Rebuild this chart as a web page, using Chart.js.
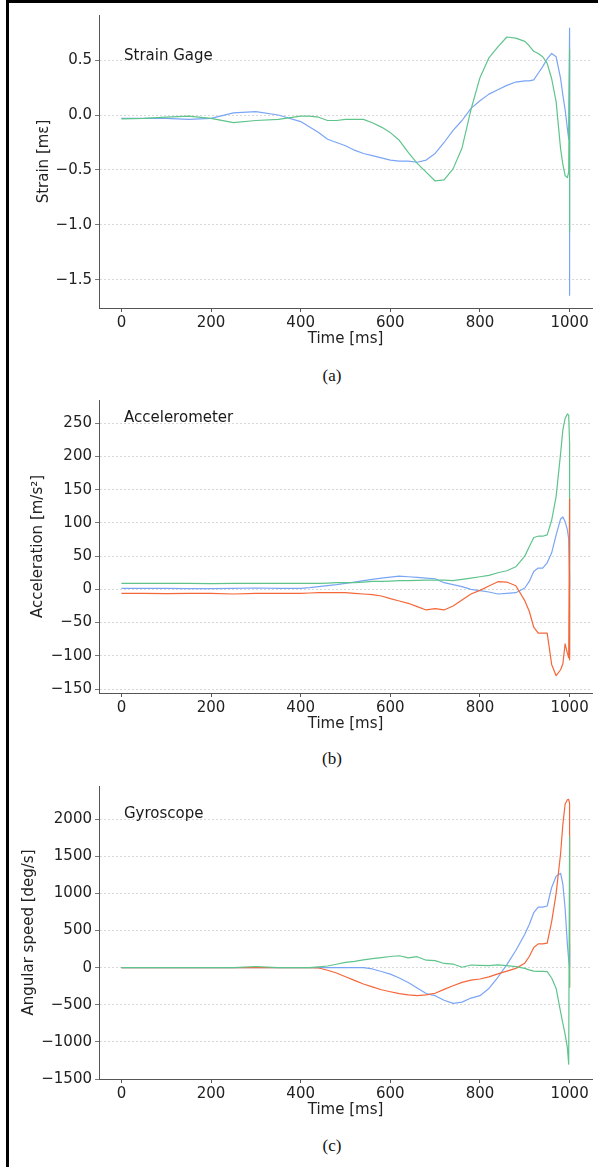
<!DOCTYPE html>
<html lang="en">
<head>
<meta charset="UTF-8">
<title>Strain gage, accelerometer and gyroscope signals</title>
<script src="https://cdn.jsdelivr.net/npm/chart.js"></script>
<style>
  body { margin: 0; background: #fff; }
  #page { position: relative; width: 598px; height: 1167px; overflow: hidden; }
  #frame { position: absolute; left: 6px; top: 0; width: 620px; height: 1200px;
           border-left: 3px solid #000; border-top: 3px solid #000; }
  .panel { position: absolute; left: 0; }
  .cap { position: absolute; left: 302px; width: 60px; text-align: center;
         font-family: "Liberation Serif", "Times New Roman", serif; font-size: 17px; line-height: 20px; color: #111; }
</style>
</head>
<body>
<div id="page">
  <div id="frame"></div>
  <canvas id="c1" class="panel" width="598" height="348" style="top:0"></canvas>
  <div class="cap" style="top:366px">(a)</div>
  <canvas id="c2" class="panel" width="598" height="348" style="top:385px"></canvas>
  <div class="cap" style="top:749px">(b)</div>
  <canvas id="c3" class="panel" width="598" height="348" style="top:771px"></canvas>
  <div class="cap" style="top:1136px">(c)</div>
</div>

<script>
// time axis shared by every series [ms]
const time = [0, 50, 100, 150, 200, 250, 300, 350, 400,
  420, 440, 460, 480, 500, 520, 540, 560, 580, 600, 620, 640, 660, 680, 700,
  720, 740, 760, 780, 800, 820, 840, 860, 880, 900,
  910, 920, 930, 940, 950, 960, 970, 980, 985, 990, 995, 998,
  1000, 1000, 1000, 1000];
const xTicks = [0, 200, 400, 600, 800, 1000];

// (a) strain gage [mε]
const strainBlue = [-0.03, -0.03, -0.03, -0.04, -0.03, 0.02, 0.03, 0.00, -0.06,
  -0.11, -0.16, -0.22, -0.25, -0.28, -0.32, -0.35, -0.37, -0.39, -0.41, -0.42, -0.42, -0.43, -0.41, -0.35,
  -0.25, -0.14, -0.05, 0.06, 0.13, 0.19, 0.23, 0.27, 0.30, 0.31,
  0.31, 0.32, 0.38, 0.44, 0.51, 0.56, 0.53, 0.33, 0.18, 0.05, -0.12, -0.22,
  0.79, -1.64, 0.30, -0.10];
const strainGreen = [-0.035, -0.03, -0.02, -0.01, -0.03, -0.07, -0.05, -0.04, -0.01,
  -0.01, -0.02, -0.05, -0.05, -0.04, -0.04, -0.04, -0.07, -0.11, -0.16, -0.23, -0.34, -0.44, -0.52, -0.60,
  -0.59, -0.49, -0.30, 0.05, 0.34, 0.52, 0.62, 0.71, 0.70, 0.67,
  0.63, 0.58, 0.56, 0.53, 0.47, 0.33, 0.12, -0.31, -0.45, -0.55, -0.57, -0.52,
  0.60, -1.06, 0.30, -0.40];
const strainTicks = [-1.5, -1.0, -0.5, 0.0, 0.5];

// (b) accelerometer [m/s²]
const accBlue = [1.5, 1.5, 1.5, 1, 1, 1.5, 2, 1.5, 1.5,
  2.5, 4, 5.5, 7, 9, 11, 13, 15, 17, 18.5, 20, 19, 18, 17, 16,
  10, 7, 4, 0, -2, -4, -7, -6, -5, 2,
  12, 27, 32, 32, 40, 55, 82, 106, 109, 102, 90, 76,
  20, 0, 10, 0];
const accGreen = [9, 9, 9, 9, 8.5, 9, 9, 9, 9,
  9, 9, 9.5, 10, 10, 10, 11, 12, 12, 12.5, 13, 13, 13.5, 14, 14,
  14, 13, 15, 17, 19, 21, 25, 28, 34, 50,
  64, 78, 80, 80, 82, 104, 140, 205, 240, 257, 264, 262,
  219, -101, 176, 200];
const accRed = [-6, -6, -6.5, -6, -6, -7, -6, -6, -6,
  -5.5, -5, -5, -5, -5, -6, -7, -8, -10, -14, -17.5, -21, -26, -31, -29,
  -31, -25, -16, -7, -1.5, 5, 11.5, 11, 5.5, -17,
  -33, -57, -66, -66, -66, -113, -130, -121, -112, -82, -96, -103,
  136, -106, 60, -20];
const accTicks = [-150, -100, -50, 0, 50, 100, 150, 200, 250];

// (c) gyroscope [deg/s]
const gyroBlue = [0, 0, 0, 0, 0, 0, 0, 0, 0,
  0, 0, 0, 0, 0, 0, 0, -18, -52, -88, -140, -200, -275, -350, -378,
  -440, -482, -465, -410, -378, -280, -130, 40, 230, 450,
  580, 740, 815, 815, 830, 1080, 1230, 1270, 1120, 800, 320, 100,
  0, 320, 0, 0];
const gyroGreen = [0, 0, 0, 0, 0, 0, 15, 0, 0,
  0, 10, 22, 45, 70, 85, 105, 122, 135, 150, 160, 132, 147, 100, 94,
  56, 48, 5, 35, 30, 27, 38, 28, 14, -10,
  -30, -48, -50, -50, -55, -140, -280, -600, -750, -900, -1075, -1300,
  1760, -250, 0, -250];
const gyroRed = [0, 0, 0, 0, 0, 0, 0, 0, 0,
  0, -5, -35, -73, -123, -172, -220, -260, -298, -325, -350, -366, -377, -368, -345,
  -293, -245, -198, -168, -153, -125, -85, -47, -10, 60,
  150, 270, 320, 320, 330, 620, 1000, 1540, 1930, 2200, 2260, 2265,
  2210, -265, 0, 0];
const gyroTicks = [-1500, -1000, -500, 0, 500, 1000, 1500, 2000];

const BLUE = '#7aa5f5', GREEN = '#5fc48c', RED = '#f5673a';
const FONT = { family: '"DejaVu Sans", sans-serif', size: 15 };

function pts(vals) {
  return time.map((t, i) => ({ x: t, y: vals[i] }));
}

function fmt(v, dec) {
  return v.toFixed(dec).replace('-', '\u2212');
}

// panel name written inside the plot, top left
const panelLabel = {
  id: 'panelLabel',
  afterDraw(chart, args, opts) {
    const ctx = chart.ctx;
    ctx.save();
    ctx.font = '15px "DejaVu Sans", sans-serif';
    ctx.fillStyle = '#1a1a1a';
    ctx.textBaseline = 'middle';
    ctx.fillText(opts.text, chart.chartArea.left + 25, chart.chartArea.top + opts.dy);
    ctx.restore();
  }
};

// first series in the list ends up on top
function makeChart(id, o) {
  const datasets = o.series.map(s => ({
    data: pts(s.vals),
    borderColor: s.color,
    borderWidth: 1.2,
    pointRadius: 0,
    tension: 0,
    borderJoinStyle: 'round',
    fill: false
  }));
  new Chart(document.getElementById(id), {
    type: 'line',
    data: { datasets: datasets },
    plugins: [panelLabel],
    options: {
      responsive: false,
      animation: false,
      layout: { padding: { top: 15, right: 6, left: o.padLeft, bottom: 0 } },
      plugins: {
        legend: { display: false },
        tooltip: { enabled: false },
        panelLabel: { text: o.label, dy: o.labelDy }
      },
      scales: {
        x: {
          type: 'linear',
          min: -50, max: 1050,
          afterBuildTicks: s => { s.ticks = xTicks.map(v => ({ value: v })); },
          afterFit: s => { s.height = 40; },
          ticks: { font: FONT, color: '#222', padding: 2, maxRotation: 0,
                   callback: v => String(v) },
          grid: { drawOnChartArea: false, tickLength: 4, tickColor: '#555' },
          border: { color: '#555', width: 1 },
          title: { display: true, text: 'Time [ms]', font: FONT, color: '#222', padding: 0 }
        },
        y: {
          type: 'linear',
          min: o.min, max: o.max,
          afterBuildTicks: s => { s.ticks = o.ticks.map(v => ({ value: v })); },
          afterFit: s => { s.width = 99 - o.padLeft; },
          ticks: { font: FONT, color: '#222', padding: 3,
                   callback: v => fmt(v, o.dec) },
          grid: { color: '#cfcfcf', lineWidth: 0.8, tickLength: 4, tickColor: '#555', tickBorderDash: [] },
          border: { color: '#555', width: 1, dash: [2, 2] },
          title: { display: true, text: o.yTitle, font: FONT, color: '#222', padding: 0 }
        }
      }
    }
  });
}

makeChart('c1', {
  series: [{ vals: strainGreen, color: GREEN }, { vals: strainBlue, color: BLUE }],
  min: -1.756, max: 0.91, ticks: strainTicks, dec: 1,
  yTitle: 'Strain [mε]', padLeft: 35, label: 'Strain Gage', labelDy: 41
});

makeChart('c2', {
  series: [{ vals: accRed, color: RED }, { vals: accGreen, color: GREEN }, { vals: accBlue, color: BLUE }],
  min: -156, max: 285, ticks: accTicks, dec: 0,
  yTitle: 'Acceleration [m/s²]', padLeft: 29, label: 'Accelerometer', labelDy: 18
});

makeChart('c3', {
  series: [{ vals: gyroGreen, color: GREEN }, { vals: gyroRed, color: RED }, { vals: gyroBlue, color: BLUE }],
  min: -1500, max: 2446, ticks: gyroTicks, dec: 0,
  yTitle: 'Angular speed [deg/s]', padLeft: 20, label: 'Gyroscope', labelDy: 28
});
</script>
</body>
</html>
